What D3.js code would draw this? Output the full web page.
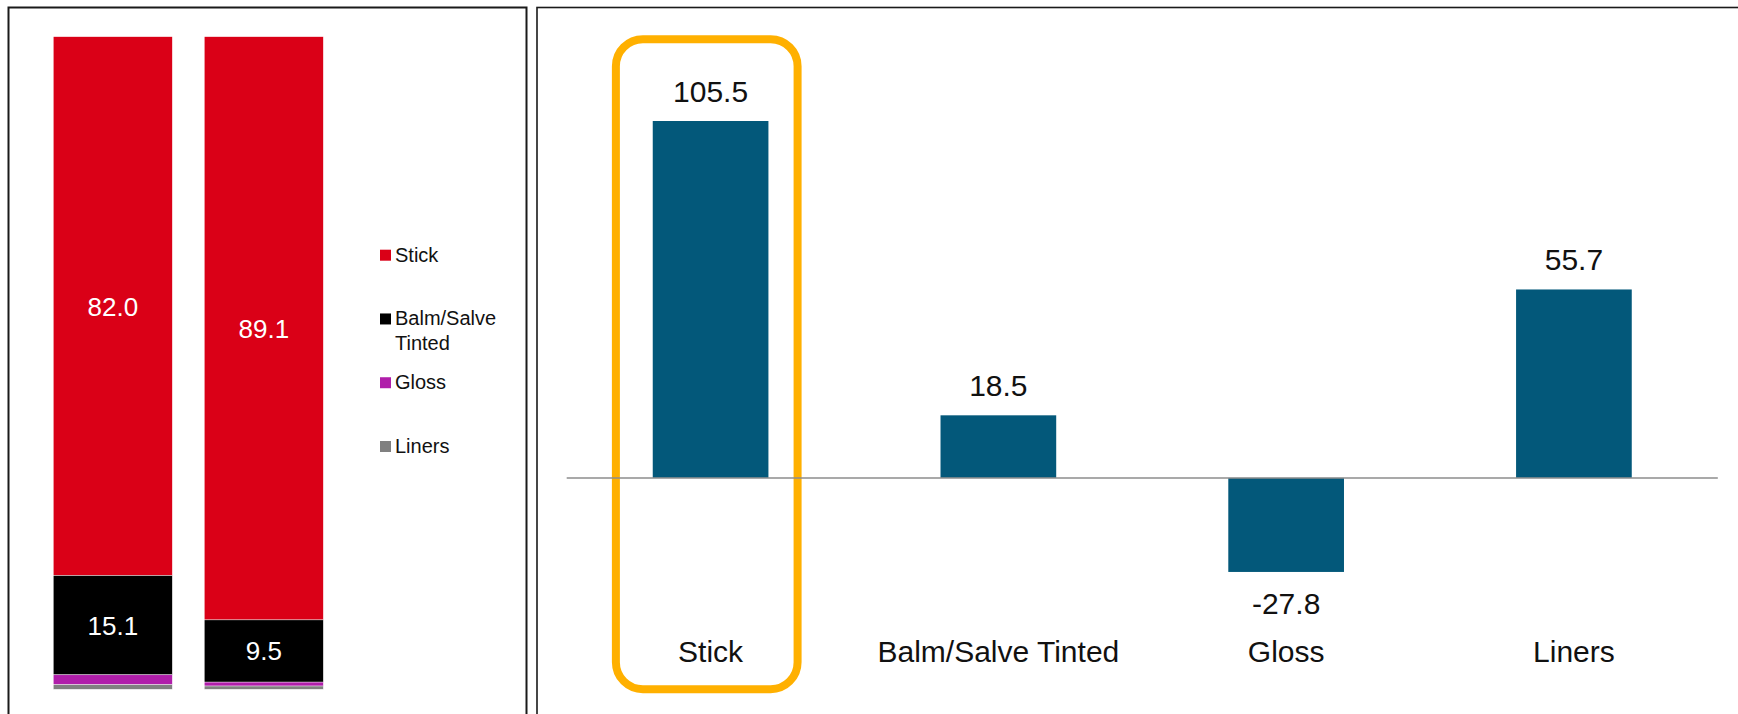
<!DOCTYPE html>
<html>
<head>
<meta charset="utf-8">
<script src="https://cdn.jsdelivr.net/npm/d3@7"></script>
<style>
  html, body { margin: 0; padding: 0; background: #fff; }
  svg { display: block; font-family: "Liberation Sans", Arial, sans-serif; }
</style>
</head>
<body>
<svg id="chart" width="1738" height="714"></svg>
<script>
// ---------- Data ----------
// Left panel: 100% stacked share by segment, two periods
const periods = ["Period 1", "Period 2"];
const segments = ["Stick", "Balm/Salve Tinted", "Gloss", "Liners"];
const stickShare  = [82.0, 89.1];
const balmShare   = [15.1, 9.5];
const glossShare  = [1.5, 0.6];
const linersShare = [0.7, 0.5];
const legendLines = [["Stick"], ["Balm/Salve", "Tinted"], ["Gloss"], ["Liners"]];

// Right panel: change by segment
const categories = ["Stick", "Balm/Salve Tinted", "Gloss", "Liners"];
const changes = [105.5, 18.5, -27.8, 55.7];
const highlighted = "Stick";

const segColors = ["#DA0017", "#000000", "#B01EAA", "#808080"];
const barColor = "#03587A";

const svg = d3.select("#chart");

// ---------- Panel frames ----------
svg.append("rect").attr("x", 8.5).attr("y", 7.5).attr("width", 518).attr("height", 730)
  .attr("fill", "none").attr("stroke", "#1a1a1a").attr("stroke-width", 2);
svg.append("rect").attr("x", 537).attr("y", 7.5).attr("width", 1230).attr("height", 730)
  .attr("fill", "none").attr("stroke", "#1a1a1a").attr("stroke-width", 1.6);

// ---------- Left: stacked 100% bars ----------
const rows = periods.map((p, i) => ({
  period: p,
  "Stick": stickShare[i],
  "Balm/Salve Tinted": balmShare[i],
  "Gloss": glossShare[i],
  "Liners": linersShare[i]
}));
const stacked = d3.stack().keys(segments)
  .order(d3.stackOrderReverse)
  .offset(d3.stackOffsetExpand)(rows);

const xL = d3.scaleBand().domain(periods).range([53.3, 323.3]).paddingInner(0.212).paddingOuter(0);
const yL = d3.scaleLinear().domain([0, 1]).range([689.3, 36.7]);

const layers = svg.append("g").selectAll("g").data(stacked).join("g")
  .attr("fill", (d, i) => segColors[i]);
layers.selectAll("rect").data(d => d.map(v => ({v, key: d.key}))).join("rect")
  .attr("x", d => xL(d.v.data.period))
  .attr("width", xL.bandwidth())
  .attr("y", d => yL(d.v[1]))
  .attr("height", d => yL(d.v[0]) - yL(d.v[1]))
  .attr("stroke", "#fff").attr("stroke-width", 0.4);

// labels for Stick and Balm segments
[0, 1].forEach(si => {
  svg.append("g").selectAll("text").data(stacked[si]).join("text")
    .attr("x", d => xL(d.data.period) + xL.bandwidth() / 2)
    .attr("y", d => (yL(d[0]) + yL(d[1])) / 2)
    .attr("dy", "0.36em")
    .attr("text-anchor", "middle")
    .attr("fill", "#fff")
    .attr("font-size", 26)
    .text(d => d3.format(".1f")(d.data[segments[si]]));
});

// legend
const legendY = d3.scalePoint().domain(segments).range([261.7, 453]);
const lg = svg.append("g").selectAll("g").data(segments).join("g");
lg.append("rect")
  .attr("x", 380).attr("y", d => legendY(d) - 12)
  .attr("width", 11).attr("height", 11)
  .attr("fill", (d, i) => segColors[i]);
lg.each(function(d, i) {
  const t = d3.select(this).append("text")
    .attr("x", 395).attr("y", legendY(d))
    .attr("font-size", 20).attr("fill", "#111");
  legendLines[i].forEach((line, j) => {
    t.append("tspan").attr("x", 395).attr("dy", j === 0 ? 0 : 24.3).text(line);
  });
});

// ---------- Right: change bars ----------
const xR = d3.scaleBand().domain(categories).range([566.7, 1717.8]).padding(0);
const barW = xR.bandwidth() * 0.402;
const yR = d3.scaleLinear().domain([0, 105.5]).range([477.9, 121]);

// highlight box
const hx = xR(highlighted) + xR.bandwidth() / 2;
svg.append("rect")
  .attr("x", hx - 94.7).attr("y", 39.2)
  .attr("width", 181.7).attr("height", 650)
  .attr("rx", 27).attr("ry", 27)
  .attr("fill", "none").attr("stroke", "#FFB000").attr("stroke-width", 8);

svg.append("g").selectAll("rect").data(categories).join("rect")
  .attr("x", d => xR(d) + (xR.bandwidth() - barW) / 2)
  .attr("width", barW)
  .attr("y", (d, i) => yR(Math.max(0, changes[i])))
  .attr("height", (d, i) => Math.abs(yR(changes[i]) - yR(0)))
  .attr("fill", barColor);

// zero line
svg.append("line")
  .attr("x1", xR.range()[0]).attr("x2", xR.range()[1])
  .attr("y1", yR(0)).attr("y2", yR(0))
  .attr("stroke", "#8c8c8c").attr("stroke-width", 1.5);

// value labels
svg.append("g").selectAll("text").data(categories).join("text")
  .attr("x", d => xR(d) + xR.bandwidth() / 2)
  .attr("y", (d, i) => changes[i] >= 0 ? yR(changes[i]) - 19.5 : yR(changes[i]) + 42)
  .attr("text-anchor", "middle")
  .attr("font-size", 30)
  .attr("fill", "#111")
  .text((d, i) => d3.format(".1f")(changes[i]).replace("−", "-"));

// category axis labels
const axis = d3.axisBottom(xR).tickSize(0).tickPadding(0);
const ax = svg.append("g").attr("transform", "translate(0,640)").call(axis);
ax.select(".domain").remove();
ax.selectAll("text")
  .attr("font-size", 30)
  .attr("font-family", "\"Liberation Sans\", Arial, sans-serif")
  .attr("fill", "#111")
  .attr("dy", null)
  .attr("y", 21.7);
</script>
</body>
</html>
